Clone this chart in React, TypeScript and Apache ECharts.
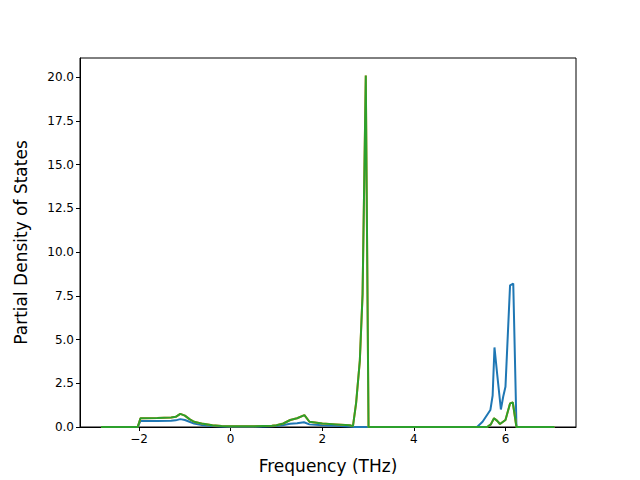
import React, { useEffect, useRef } from "react";
import * as echarts from "echarts";

const xTicks = [-2, 0, 2, 4, 6];
const yTicks = [0, 2.5, 5, 7.5, 10, 12.5, 15, 17.5, 20];

const dosAtom1: [number, number][] = [
  [-2.83, 0], [-2.03, 0], [-1.97, 0.35], [-1.6, 0.35], [-1.3, 0.36], [-1.2, 0.38], [-1.1, 0.45],
  [-1.0, 0.4], [-0.9, 0.3], [-0.8, 0.2], [-0.6, 0.1], [-0.4, 0.05], [-0.2, 0.03], [0, 0.02],
  [0.5, 0.02], [0.9, 0.04], [1.1, 0.08], [1.3, 0.18], [1.45, 0.22], [1.6, 0.27], [1.72, 0.15],
  [2.0, 0.1], [2.3, 0.07], [2.6, 0.03], [2.7, 0], [5.38, 0], [5.5, 0.3], [5.67, 0.97],
  [5.72, 1.8], [5.76, 4.55], [5.82, 3.0], [5.9, 1.0], [5.95, 1.73], [6.0, 2.3], [6.1, 8.1],
  [6.17, 8.2], [6.24, 0], [7.07, 0],
];

const dosAtom2: [number, number][] = [
  [-2.83, 0], [-2.03, 0], [-1.97, 0.5], [-1.6, 0.52], [-1.3, 0.55], [-1.2, 0.58], [-1.1, 0.75],
  [-1.0, 0.65], [-0.9, 0.45], [-0.8, 0.3], [-0.6, 0.18], [-0.4, 0.1], [-0.2, 0.06], [0, 0.04],
  [0.5, 0.04], [0.9, 0.07], [1.0, 0.1], [1.15, 0.2], [1.3, 0.4], [1.45, 0.5], [1.61, 0.68],
  [1.72, 0.3], [2.0, 0.2], [2.3, 0.15], [2.6, 0.1], [2.67, 0.05], [2.74, 1.4], [2.82, 3.8],
  [2.88, 7.6], [2.95, 20.1], [3.01, 0], [5.6, 0], [5.68, 0.15], [5.75, 0.5], [5.82, 0.35],
  [5.88, 0.17], [6.0, 0.4], [6.1, 1.35], [6.16, 1.4], [6.24, 0], [7.07, 0],
];

const dosAtom3: [number, number][] = dosAtom2.map((p) => [p[0], p[1]] as [number, number]);

const colors = ["#1f77b4", "#ff7f0e", "#2ca02c"];

export default function App() {
  const ref = useRef<HTMLDivElement>(null);
  useEffect(() => {
    if (!ref.current) return;
    const chart = echarts.init(ref.current, null, { renderer: "svg" });
    const font = "DejaVu Sans";
    chart.setOption({
      animation: false,
      backgroundColor: "#fff",
      grid: {
        left: 80, right: 64, top: 58, bottom: 53,
        show: true, borderColor: "#000", borderWidth: 1, backgroundColor: "transparent",
      },
      xAxis: {
        type: "value",
        min: -3.29,
        max: 7.54,
        name: "Frequency (THz)",
        nameLocation: "middle",
        nameGap: 30,
        nameTextStyle: { fontFamily: font, fontSize: 17, color: "#000" },
        axisLine: { show: true, onZero: false, lineStyle: { color: "#000", width: 1 } },
        axisTick: { show: true, length: 4, inside: false, customValues: xTicks, lineStyle: { color: "#000" } },
        axisLabel: {
          customValues: xTicks, fontFamily: font, fontSize: 12, color: "#000", margin: 6,
          formatter: (v: number) => (v < 0 ? "\u2212" + Math.abs(v) : String(v)),
        },
        splitLine: { show: false },
      },
      yAxis: {
        type: "value",
        min: 0,
        max: 21.1,
        name: "Partial Density of States",
        nameLocation: "middle",
        nameGap: 51,
        nameTextStyle: { fontFamily: font, fontSize: 17, color: "#000" },
        axisLine: { show: true, onZero: false, lineStyle: { color: "#000", width: 1 } },
        axisTick: { show: true, length: 4, inside: false, customValues: yTicks, lineStyle: { color: "#000" } },
        axisLabel: {
          customValues: yTicks, fontFamily: font, fontSize: 12, color: "#000", margin: 6,
          formatter: (v: number) => v.toFixed(1),
        },
        splitLine: { show: false },
      },
      series: [dosAtom1, dosAtom2, dosAtom3].map((d, i) => ({
        type: "line",
        data: d,
        showSymbol: false,
        symbol: "none",
        lineStyle: { color: colors[i], width: 2 },
        itemStyle: { color: colors[i] },
        z: 2 + i,
        clip: true,
      })),
    });
    return () => chart.dispose();
  }, []);
  return <div ref={ref} style={{ width: 640, height: 480, position: "absolute", left: 0, top: 0 }} />;
}
